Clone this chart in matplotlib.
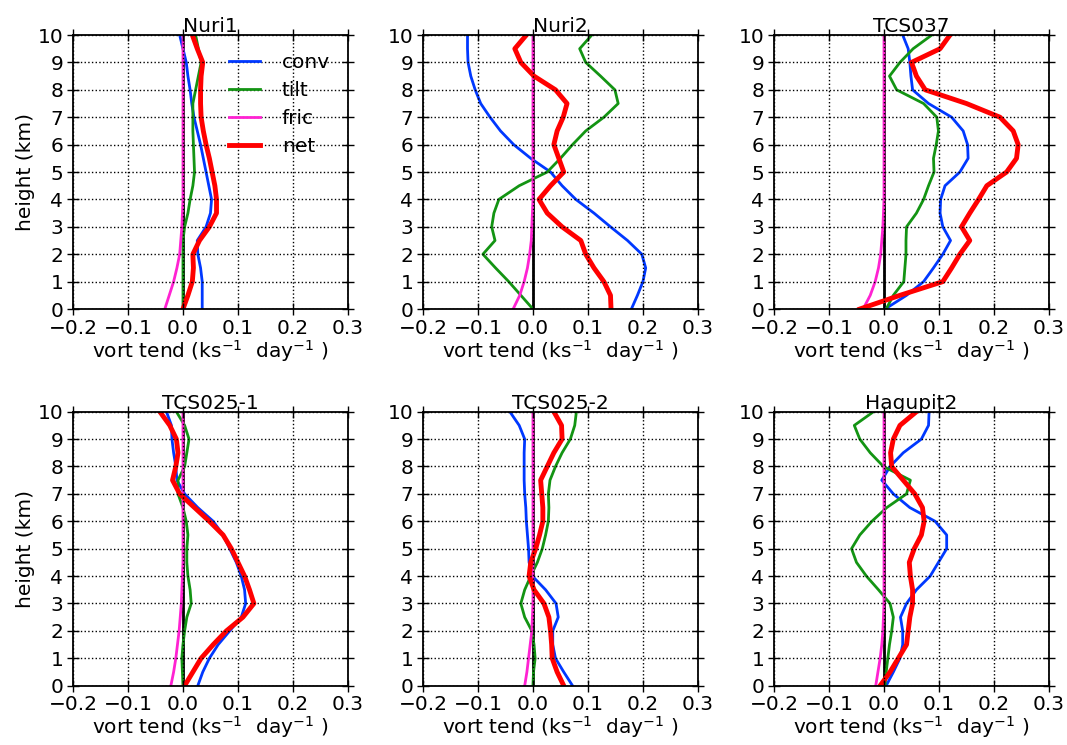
"""
Vorticity tendency budget profiles (conv, tilt, fric, net) for six cases.
"""

import matplotlib
matplotlib.use("Agg")
import matplotlib.pyplot as plt
import numpy as np

plt.rcParams.update({"font.size": 14.5, "font.family": "DejaVu Sans"})

HEIGHT = np.arange(0, 10.01, 0.5)  # km, 0.5 km levels

CASES = ["Nuri1", "Nuri2", "TCS037", "TCS025-1", "TCS025-2", "Hagupit2"]

# values listed from 0 km up to 10 km (ks^-1 day^-1)
nuri1_conv = [0.035, 0.035, 0.035, 0.032, 0.027, 0.026, 0.042, 0.050, 0.052, 0.047, 0.042,
              0.037, 0.032, 0.026, 0.020, 0.016, 0.013, 0.009, 0.006, 0.000, -0.006]
nuri1_tilt = [0.000, 0.000, 0.000, 0.000, 0.000, 0.000, 0.003, 0.009, 0.013, 0.018, 0.021,
              0.020, 0.019, 0.018, 0.018, 0.018, 0.023, 0.028, 0.033, 0.028, 0.023]
nuri1_fric = [-0.033, -0.025, -0.017, -0.011, -0.006, -0.004, -0.002, -0.001, 0.000, 0.000, 0.000,
              0.000, 0.000, 0.000, 0.000, 0.000, 0.000, 0.000, 0.000, 0.000, 0.000]
nuri1_net = [0.000, 0.009, 0.017, 0.019, 0.018, 0.030, 0.048, 0.061, 0.061, 0.058, 0.053,
             0.048, 0.042, 0.037, 0.033, 0.032, 0.032, 0.033, 0.036, 0.026, 0.017]

nuri2_conv = [0.179, 0.190, 0.200, 0.205, 0.198, 0.172, 0.141, 0.111, 0.078, 0.053, 0.032,
              -0.004, -0.035, -0.059, -0.078, -0.095, -0.105, -0.113, -0.118, -0.119, -0.119]
nuri2_tilt = [0.000, -0.022, -0.044, -0.068, -0.091, -0.069, -0.075, -0.071, -0.062, -0.025, 0.026,
              0.050, 0.072, 0.096, 0.129, 0.155, 0.149, 0.123, 0.096, 0.085, 0.107]
nuri2_fric = [-0.036, -0.024, -0.016, -0.010, -0.006, -0.003, -0.002, -0.001, 0.000, 0.000, 0.000,
              0.000, 0.000, 0.000, 0.000, 0.000, 0.000, 0.000, 0.000, 0.000, 0.000]
nuri2_net = [0.142, 0.141, 0.129, 0.111, 0.096, 0.087, 0.053, 0.026, 0.011, 0.032, 0.056,
             0.047, 0.038, 0.044, 0.055, 0.062, 0.041, 0.002, -0.022, -0.033, -0.012]

tcs037_conv = [0.002, 0.041, 0.072, 0.090, 0.107, 0.121, 0.107, 0.102, 0.103, 0.111, 0.138,
               0.153, 0.152, 0.144, 0.123, 0.081, 0.052, 0.049, 0.047, 0.044, 0.034]
tcs037_tilt = [0.004, 0.017, 0.036, 0.038, 0.040, 0.040, 0.041, 0.059, 0.072, 0.081, 0.091,
               0.090, 0.095, 0.099, 0.096, 0.072, 0.023, 0.010, 0.029, 0.053, 0.087]
tcs037_fric = [-0.038, -0.025, -0.016, -0.010, -0.006, -0.004, -0.002, -0.001, 0.000, 0.000, 0.000,
               0.000, 0.000, 0.000, 0.000, 0.000, 0.000, 0.000, 0.000, 0.000, 0.000]
tcs037_net = [-0.044, 0.029, 0.107, 0.123, 0.138, 0.156, 0.141, 0.156, 0.172, 0.187, 0.223,
              0.241, 0.244, 0.235, 0.211, 0.150, 0.075, 0.059, 0.050, 0.102, 0.120]

tcs0251_conv = [0.027, 0.036, 0.048, 0.064, 0.085, 0.106, 0.114, 0.112, 0.106, 0.097, 0.085,
                0.073, 0.055, 0.027, 0.003, -0.011, -0.013, -0.017, -0.020, -0.021, -0.030]
tcs0251_tilt = [0.000, -0.001, -0.002, 0.000, 0.003, 0.007, 0.015, 0.013, 0.009, 0.007, 0.007,
                0.009, 0.006, 0.000, -0.009, -0.009, 0.003, 0.007, 0.011, 0.003, -0.012]
tcs0251_fric = [-0.022, -0.017, -0.013, -0.010, -0.007, -0.005, -0.003, -0.002, -0.001, 0.000, 0.000,
                0.000, 0.000, 0.000, 0.000, 0.000, 0.000, 0.000, 0.000, 0.000, 0.000]
tcs0251_net = [0.003, 0.018, 0.033, 0.055, 0.079, 0.109, 0.129, 0.121, 0.112, 0.100, 0.088,
               0.073, 0.048, 0.021, -0.006, -0.019, -0.013, -0.009, -0.012, -0.024, -0.042]

tcs0252_conv = [0.072, 0.056, 0.041, 0.036, 0.036, 0.046, 0.042, 0.023, -0.001, -0.007, -0.008,
                -0.010, -0.012, -0.013, -0.015, -0.016, -0.016, -0.016, -0.015, -0.025, -0.042]
tcs0252_tilt = [0.000, 0.001, 0.004, 0.002, -0.002, -0.015, -0.022, -0.015, -0.004, 0.008, 0.017,
                0.023, 0.028, 0.029, 0.028, 0.031, 0.041, 0.053, 0.068, 0.076, 0.079]
tcs0252_fric = [-0.015, -0.011, -0.008, -0.005, -0.002, -0.001, 0.000, 0.000, 0.000, 0.000, 0.000,
                0.000, 0.000, 0.000, 0.000, 0.000, 0.000, 0.000, 0.000, 0.000, 0.000]
tcs0252_net = [0.056, 0.044, 0.035, 0.034, 0.032, 0.029, 0.020, 0.002, -0.007, -0.004, 0.005,
               0.012, 0.018, 0.018, 0.016, 0.014, 0.026, 0.038, 0.053, 0.052, 0.038]

hagupit2_conv = [0.004, 0.017, 0.029, 0.034, 0.034, 0.030, 0.041, 0.059, 0.084, 0.099, 0.114,
                 0.114, 0.093, 0.047, 0.017, -0.004, 0.011, 0.035, 0.068, 0.081, 0.082]
hagupit2_tilt = [0.002, 0.004, 0.007, 0.010, 0.014, 0.017, 0.011, -0.010, -0.032, -0.050, -0.059,
                 -0.044, -0.022, 0.005, 0.041, 0.048, -0.001, -0.025, -0.044, -0.054, -0.019]
hagupit2_fric = [-0.015, -0.011, -0.007, -0.004, -0.002, -0.001, 0.000, 0.000, 0.000, 0.000, 0.000,
                 0.000, 0.000, 0.000, 0.000, 0.000, 0.000, 0.000, 0.000, 0.000, 0.000]
hagupit2_net = [-0.007, 0.011, 0.026, 0.041, 0.044, 0.047, 0.052, 0.052, 0.048, 0.046, 0.055,
                0.068, 0.073, 0.070, 0.056, 0.035, 0.014, 0.012, 0.017, 0.029, 0.059]

PROFILES = {
    "Nuri1": (nuri1_conv, nuri1_tilt, nuri1_fric, nuri1_net),
    "Nuri2": (nuri2_conv, nuri2_tilt, nuri2_fric, nuri2_net),
    "TCS037": (tcs037_conv, tcs037_tilt, tcs037_fric, tcs037_net),
    "TCS025-1": (tcs0251_conv, tcs0251_tilt, tcs0251_fric, tcs0251_net),
    "TCS025-2": (tcs0252_conv, tcs0252_tilt, tcs0252_fric, tcs0252_net),
    "Hagupit2": (hagupit2_conv, hagupit2_tilt, hagupit2_fric, hagupit2_net),
}

TERMS = ["conv", "tilt", "fric", "net"]
COLORS = ["#0038ff", "#139413", "#ff22d2", "#ff0000"]
WIDTHS = [2.0, 2.0, 2.0, 3.5]


def _fmt(v, pos):
    s = f"{v:.1f}"
    if s == "-0.0":
        s = "0.0"
    return s.replace("-", "\u2212")


fig = plt.figure(figsize=(10.67, 7.45), dpi=100)
lefts = [0.0684, 0.3964, 0.7254]
bottoms = [0.5852, 0.0796]
w, h = 0.2577, 0.3678

for i, case in enumerate(CASES):
    ax = fig.add_axes([lefts[i % 3], bottoms[i // 3], w, h])
    ax.axvline(0, color="black", linewidth=2.0, zorder=1.5)
    for term, vals, c, lw in zip(TERMS, PROFILES[case], COLORS, WIDTHS):
        ax.plot(vals, HEIGHT, color=c, linewidth=lw, label=term)
    ax.set_xlim(-0.2, 0.3)
    ax.set_ylim(0, 10)
    ax.set_xticks(np.arange(-0.2, 0.31, 0.1))
    ax.set_yticks(np.arange(0, 11, 1))
    ax.xaxis.set_major_formatter(plt.FuncFormatter(_fmt))
    ax.grid(True, color="black", linestyle=":", linewidth=1.0)
    ax.set_axisbelow(False)
    ax.tick_params(direction="inout", length=8, width=1.0, top=True, right=True, pad=3)
    for sp in ax.spines.values():
        sp.set_linewidth(1.3)
    ax.set_title(case, fontsize=14.5, pad=2)
    ax.set_xlabel(r"vort tend (ks$^{-1}$  day$^{-1}$ )", labelpad=0)
    if i % 3 == 0:
        ax.set_ylabel("height (km)", labelpad=2)
    if i == 0:
        ax.legend(loc="upper right", frameon=False, fontsize=14.5, handlelength=1.5,
                  handletextpad=1.1, borderaxespad=0.5, labelspacing=0.45)

fig.savefig("out.png", dpi=100)
